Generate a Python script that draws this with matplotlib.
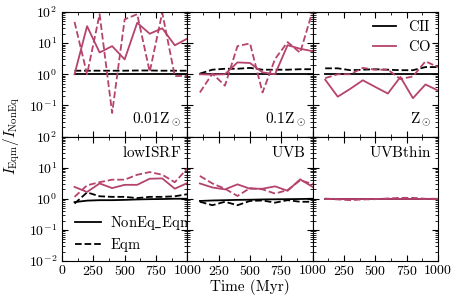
import matplotlib
matplotlib.use('Agg')
import matplotlib.pyplot as plt
import matplotlib.ticker as ticker
import numpy as np

plt.rcParams['font.family'] = 'serif'
plt.rcParams['font.serif'] = ['cmr10', 'DejaVu Serif']
plt.rcParams['mathtext.fontset'] = 'cm'
plt.rcParams['axes.formatter.use_mathtext'] = True
plt.rcParams['font.size'] = 9.5

co_color = '#b5436d'

time = [100, 200, 300, 400, 500, 600, 700, 800, 900, 1000]

labels = [r'$0.01\mathrm{Z}_\odot$', r'$0.1\mathrm{Z}_\odot$', r'$\mathrm{Z}_\odot$',
          r'$\mathrm{lowISRF}$', r'$\mathrm{UVB}$', r'$\mathrm{UVBthin}$']

# CII, non-equilibrium run (ratio ~1 by construction)
cii_noneq = [
    [1.0, 1.0, 1.0, 1.0, 1.0, 1.0, 1.0, 1.0, 1.0, 1.0],
    [1.0, 1.0, 1.0, 1.0, 1.0, 1.0, 1.0, 1.0, 1.0, 1.0],
    [1.0, 1.0, 1.0, 1.0, 1.0, 1.0, 1.0, 1.0, 1.0, 1.0],
    [0.78, 0.87, 0.9, 0.9, 0.92, 0.95, 0.97, 0.98, 1.0, 1.0],
    [0.85, 0.88, 0.9, 0.92, 0.93, 0.95, 0.96, 0.97, 0.98, 1.0],
    [1.0, 1.0, 1.0, 1.0, 1.0, 1.0, 1.0, 1.0, 1.0, 1.0],
]
# CII, equilibrium run
cii_eqm = [
    [1.3, 1.3, 1.3, 1.3, 1.3, 1.32, 1.32, 1.3, 1.3, 1.3],
    [1.05, 1.4, 1.5, 1.5, 1.6, 1.4, 1.4, 1.4, 1.45, 1.45],
    [1.55, 1.55, 1.35, 1.4, 1.45, 1.4, 1.35, 1.35, 1.7, 1.7],
    [0.7, 1.6, 1.2, 1.15, 1.15, 1.05, 1.15, 1.15, 1.2, 1.4],
    [0.8, 0.62, 0.8, 0.62, 0.85, 0.88, 0.75, 0.9, 0.8, 0.8],
    [1.0, 0.98, 0.97, 0.98, 0.98, 0.99, 0.99, 0.98, 0.98, 0.98],
]
# CO, non-equilibrium run
co_noneq = [
    [1.0, 35, 5, 8, 3, 45, 20, 30, 8.5, 14],
    [1.0, 0.97, 1.0, 2.4, 2.3, 1.15, 1.0, 8.6, 6.6, 5.5],
    [0.67, 0.19, 0.34, 0.64, 0.39, 0.24, 0.82, 0.17, 0.47, 0.30],
    [2.4, 1.65, 3.1, 2.2, 2.8, 2.8, 4.4, 4.5, 2.1, 3.2],
    [3.1, 2.3, 2.0, 2.9, 2.1, 2.1, 2.5, 1.8, 4.2, 2.4],
    [1.0, 1.0, 1.0, 1.0, 1.0, 1.0, 1.0, 1.0, 1.0, 1.0],
]
# CO, equilibrium run
co_eqm = [
    [48, 1.0, 85, 0.057, 58, 85, 1.2, 95, 0.87, 0.9],
    [0.26, 1.05, 0.43, 8.0, 9.8, 0.26, 3.1, 10.8, 4.9, 110],
    [0.75, 1.0, 1.0, 1.6, 1.4, 1.4, 0.7, 0.85, 2.6, 1.7],
    [1.15, 2.7, 3.4, 4.1, 4.1, 5.9, 7.2, 5.9, 3.4, 9.3],
    [5.4, 3.1, 2.1, 1.23, 2.2, 2.0, 1.47, 1.9, 3.9, 3.0],
    [1.0, 0.95, 0.9, 0.95, 0.97, 1.02, 1.07, 1.07, 1.0, 1.0],
]

fig, axes = plt.subplots(2, 3, figsize=(4.58, 2.98), dpi=100)
plt.subplots_adjust(left=62/458, right=438/458, top=1-12/298, bottom=1-261/298,
                    wspace=0, hspace=0)

def log_fmt(skip_bottom):
    def f(v, p):
        if skip_bottom and v < 0.05:
            return ''
        return r'$10^{%d}$' % round(np.log10(v))
    return ticker.FuncFormatter(f)

for i, ax in enumerate(axes.flat):
    r, c = divmod(i, 3)
    ax.plot(time, cii_noneq[i], color='black', lw=1.3, ls='-')
    ax.plot(time, cii_eqm[i], color='black', lw=1.3, ls='--')
    ax.plot(time, co_noneq[i], color=co_color, lw=1.3, ls='-')
    ax.plot(time, co_eqm[i], color=co_color, lw=1.3, ls='--')
    ax.set_yscale('log')
    ax.set_ylim(1e-2, 1e2)
    ax.set_xlim(0, 1000)
    ax.xaxis.set_major_locator(ticker.MultipleLocator(250))
    ax.xaxis.set_minor_locator(ticker.MultipleLocator(125))
    ax.yaxis.set_major_locator(ticker.LogLocator(base=10, numticks=10))
    ax.yaxis.set_minor_locator(ticker.LogLocator(base=10, subs=np.arange(2, 10), numticks=10))
    ax.yaxis.set_minor_formatter(ticker.NullFormatter())
    ax.tick_params(which='both', direction='in', top=True, right=True, labelsize=10)
    ax.tick_params(which='major', length=4, width=0.8)
    ax.tick_params(which='minor', length=2.5, width=0.6)
    ax.tick_params(axis='x', pad=2.5)
    if c == 0:
        ax.yaxis.set_major_formatter(log_fmt(r == 0))
    else:
        ax.tick_params(labelleft=False)
    if r == 1:
        if c == 0:
            ax.xaxis.set_major_formatter(ticker.FuncFormatter(lambda v, p: r'$%d$' % v))
        else:
            ax.xaxis.set_major_formatter(ticker.FuncFormatter(lambda v, p: '' if v < 1 else r'$%d$' % v))
    else:
        ax.tick_params(labelbottom=False)
    if r == 0:
        ax.text(0.95, 0.07, labels[i], transform=ax.transAxes, ha='right', va='bottom', fontsize=11)
    else:
        ax.text(0.95, 0.93, labels[i], transform=ax.transAxes, ha='right', va='top', fontsize=11)

# legends
h1, = axes[0, 2].plot([], [], color='black', lw=1.3)
h2, = axes[0, 2].plot([], [], color=co_color, lw=1.3)
axes[0, 2].legend([h1, h2], [r'$\mathrm{CII}$', r'$\mathrm{CO}$'], loc='upper right',
                  frameon=False, fontsize=10.5, handlelength=1.6, borderaxespad=0.1,
                  labelspacing=0.3)
h3, = axes[1, 0].plot([], [], color='black', lw=1.3)
h4, = axes[1, 0].plot([], [], color='black', lw=1.3, ls='--')
axes[1, 0].legend([h3, h4], [r'$\mathrm{NonEq\_Eqm}$', r'$\mathrm{Eqm}$'], loc='lower left',
                  frameon=False, fontsize=10.5, handlelength=1.8, handletextpad=0.6,
                  labelspacing=0.25, bbox_to_anchor=(0.0, -0.05))

fig.text(12/458, 1 - 136/298, r'$I_{\rm Eqm}/I_{\rm NonEq}$', rotation=90,
         ha='center', va='center', fontsize=11)
fig.text(0.5 * (62 + 438) / 458, 1 - 287/298, 'Time (Myr)', ha='center', va='center',
         fontsize=11)

plt.savefig('out.png', dpi=100)
